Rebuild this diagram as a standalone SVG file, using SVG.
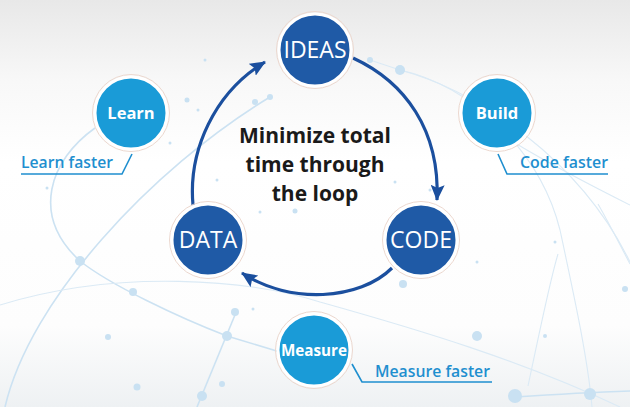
<svg xmlns="http://www.w3.org/2000/svg" width="630" height="407" viewBox="0 0 630 407">
  <defs>
    <linearGradient id="bg" x1="0" y1="0" x2="0" y2="1">
      <stop offset="0" stop-color="#e8e8e8"/>
      <stop offset="0.2" stop-color="#f8f8f8"/>
      <stop offset="0.4" stop-color="#ffffff"/>
      <stop offset="0.8" stop-color="#fdfdfd"/>
      <stop offset="1" stop-color="#eef1f3"/>
    </linearGradient>
    <marker id="ah" markerWidth="16" markerHeight="14" refX="15" refY="7" orient="auto" markerUnits="userSpaceOnUse">
      <path d="M0,0 L16,7 L0,14 L3,7 Z" fill="#1b4f9e"/>
    </marker>
    <style>
      .net { fill: none; stroke: #cce2f2; stroke-width: 1.6; }
      .netf { fill: none; stroke: #dbeaf5; stroke-width: 1.1; }
      .dot { fill: #c9e1f2; }
      .ring { fill: none; stroke: #ecd8cf; stroke-width: 1; }
      .dark { fill: #1f5aa6; stroke: #ffffff; stroke-width: 3; }
      .light { fill: #1a9bd7; stroke: #ffffff; stroke-width: 3; }
      .big { font-family: "Open Sans", "Liberation Sans", sans-serif; font-size: 23px; fill: #ffffff; text-anchor: middle; }
      .small { font-family: "Open Sans", "Liberation Sans", sans-serif; font-size: 16.5px; font-weight: 700; fill: #ffffff; text-anchor: middle; }
      .note { font-family: "Open Sans", "Liberation Sans", sans-serif; font-size: 17px; font-weight: 600; fill: #1f8fcf; }
      .uline { fill: none; stroke: #1f8fcf; stroke-width: 1.6; }
      .title { font-family: "Open Sans", "Liberation Sans", sans-serif; font-size: 21px; font-weight: 700; fill: #1a1a1a; text-anchor: middle; }
      .conn { fill: none; stroke: #1b4f9e; stroke-width: 3.2; marker-end: url(#ah); }
    </style>
  </defs>

  <rect width="630" height="407" fill="url(#bg)"/>

  <g id="background-network">
    <path class="net" d="M95,128 C50,160 30,215 80,261 C110,285 180,318 227,336 L280,352"/>
    <path class="net" d="M5,407 C30,300 150,170 270,97"/>
    <path class="netf" d="M0,305 C120,268 250,280 320,302 C420,330 520,360 620,407"/>
    <path class="net" d="M237,310 L197,407"/>
    <path class="netf" d="M370,60 L400,70 C470,85 540,150 560,230 C575,300 588,360 592,407"/>
    <path class="netf" d="M400,70 C480,92 580,160 630,262"/>
    <path class="netf" d="M515,143 C560,170 600,190 630,205"/>
    <path class="netf" d="M528,386 C540,330 550,280 558,254"/>
    <path class="net" d="M515,397 C560,394 600,392 630,391"/>
    <path class="netf" d="M598,204 C610,225 620,245 630,264"/>
    <circle class="dot" cx="205" cy="60" r="1.5"/>
    <circle class="dot" cx="187" cy="100" r="2.5"/>
    <circle class="dot" cx="198" cy="110" r="1.5"/>
    <circle class="dot" cx="170" cy="143" r="1.5"/>
    <circle class="dot" cx="217" cy="180" r="1.5"/>
    <circle class="dot" cx="47" cy="188" r="1.5"/>
    <circle class="dot" cx="255" cy="102" r="3"/>
    <circle class="dot" cx="270" cy="97" r="3"/>
    <circle class="dot" cx="370" cy="60" r="3"/>
    <circle class="dot" cx="400" cy="70" r="5"/>
    <circle class="dot" cx="395" cy="182" r="1.5"/>
    <circle class="dot" cx="430" cy="190" r="1.5"/>
    <circle class="dot" cx="80" cy="261" r="5"/>
    <circle class="dot" cx="133" cy="292" r="4"/>
    <circle class="dot" cx="227" cy="336" r="5"/>
    <circle class="dot" cx="235" cy="312" r="4"/>
    <circle class="dot" cx="202" cy="396" r="5"/>
    <circle class="dot" cx="108" cy="337" r="3"/>
    <circle class="dot" cx="137" cy="387" r="3.5"/>
    <circle class="dot" cx="222" cy="384" r="3"/>
    <circle class="dot" cx="253" cy="309" r="1.5"/>
    <circle class="dot" cx="260" cy="212" r="1.5"/>
    <circle class="dot" cx="295" cy="211" r="2.5"/>
    <circle class="dot" cx="403" cy="284" r="4"/>
    <circle class="dot" cx="477" cy="336" r="5"/>
    <circle class="dot" cx="477" cy="262" r="1.5"/>
    <circle class="dot" cx="555" cy="242" r="1.5"/>
    <circle class="dot" cx="545" cy="336" r="2"/>
    <circle class="dot" cx="515" cy="396" r="7"/>
    <circle class="dot" cx="590" cy="394" r="6"/>
    <circle class="dot" cx="625" cy="289" r="3"/>
  </g>

  <g id="connectors">
    <path class="conn" d="M193,205 C188,150 215,92 265,62"/>
    <path class="conn" d="M353,58 C405,82 440,130 437,200"/>
    <path class="conn" d="M392,268 C360,300 290,305 242,273"/>
  </g>

  <g id="title">
    <text class="title" x="315" y="143">Minimize total</text>
    <text class="title" x="315" y="172">time through</text>
    <text class="title" x="315" y="201">the loop</text>
  </g>

  <g id="ideas">
    <circle class="ring" cx="315" cy="50" r="38.5"/>
    <circle class="dark" cx="315" cy="50" r="36"/>
    <text class="big" x="315" y="58">IDEAS</text>
  </g>
  <g id="code">
    <circle class="ring" cx="421" cy="240" r="38.5"/>
    <circle class="dark" cx="421" cy="240" r="36"/>
    <text class="big" x="421" y="248">CODE</text>
  </g>
  <g id="data">
    <circle class="ring" cx="208" cy="240" r="38.5"/>
    <circle class="dark" cx="208" cy="240" r="36"/>
    <text class="big" x="208" y="248">DATA</text>
  </g>

  <g id="learn">
    <circle class="ring" cx="131" cy="113" r="38.5"/>
    <circle class="light" cx="131" cy="113" r="36"/>
    <text class="small" x="131" y="119">Learn</text>
  </g>
  <g id="build">
    <circle class="ring" cx="497" cy="113" r="38.5"/>
    <circle class="light" cx="497" cy="113" r="36"/>
    <text class="small" x="497" y="119">Build</text>
  </g>
  <g id="measure">
    <circle class="ring" cx="314" cy="350" r="38.5"/>
    <circle class="light" cx="314" cy="350" r="36"/>
    <text class="small" x="314" y="356" textLength="66" lengthAdjust="spacingAndGlyphs">Measure</text>
  </g>

  <g id="learn-faster">
    <text class="note" x="21" y="168" textLength="92" lengthAdjust="spacingAndGlyphs">Learn faster</text>
    <path class="uline" d="M21,174 H122 L132,154"/>
  </g>
  <g id="code-faster">
    <text class="note" x="520" y="168" textLength="88" lengthAdjust="spacingAndGlyphs">Code faster</text>
    <path class="uline" d="M498,154 L507,174 H608"/>
  </g>
  <g id="measure-faster">
    <text class="note" x="375" y="377" textLength="115" lengthAdjust="spacingAndGlyphs">Measure faster</text>
    <path class="uline" d="M352,364 L362,382 H492"/>
  </g>
</svg>
